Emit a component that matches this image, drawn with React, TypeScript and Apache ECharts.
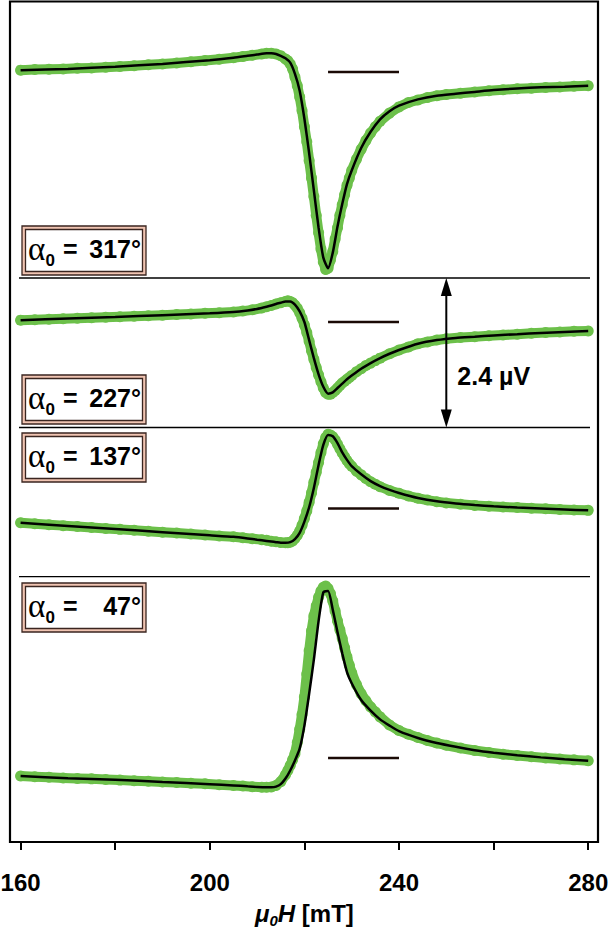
import React, { useEffect, useRef } from 'react';
import * as echarts from 'echarts';

// Field values (mT) of the measured points
const fieldX = [
  160, 163, 166, 169, 172, 175, 178, 181, 184, 187, 190, 193, 196, 199, 202, 205,
  207, 209, 211, 212, 213, 214, 215, 216,
  216.5, 217, 217.5, 218, 218.5, 219, 219.5, 220, 220.5, 221, 221.5, 222, 222.5, 223, 223.5, 224,
  224.5, 225, 225.5, 226, 226.5, 227, 227.5, 228, 228.5, 229, 229.5, 230,
  231, 232, 233, 234, 235, 236,
  238, 240, 242, 244, 246, 248, 250,
  253, 256, 259, 262, 265, 268, 271, 274, 277, 280,
];
// Field values (mT) of the fitted curves
const fitX = [
  160, 170, 180, 190, 200, 205, 208, 210, 212, 213, 214, 215,
  216, 217, 218, 219, 220, 221, 222, 223, 224, 225, 226, 227, 228, 229, 230,
  232, 234, 236, 238, 240, 244, 248, 252, 256, 260, 265, 270, 275, 280,
];

// Measured signal (µV), alpha0 = 317°
const data317 = [
  0.03, 0.04, 0.045, 0.05, 0.06, 0.065, 0.075, 0.09, 0.1, 0.115, 0.13, 0.145, 0.165, 0.185, 0.205, 0.23,
  0.25, 0.27, 0.29, 0.3, 0.3, 0.29, 0.26, 0.21,
  0.18, 0.13, 0.05, -0.08, -0.22, -0.4, -0.62, -0.88, -1.12, -1.42, -1.7, -2.0, -2.3, -2.58, -2.84, -3.05,
  -3.17, -3.15, -3.02, -2.88, -2.68, -2.5, -2.3, -2.13, -1.97, -1.82, -1.7, -1.58,
  -1.4, -1.24, -1.1, -0.98, -0.88, -0.79,
  -0.66, -0.56, -0.49, -0.45, -0.41, -0.38, -0.36,
  -0.34, -0.32, -0.3, -0.285, -0.27, -0.26, -0.25, -0.24, -0.23, -0.22,
];
const fit317 = [
  0.03, 0.05, 0.085, 0.13, 0.19, 0.23, 0.26, 0.28, 0.3, 0.3, 0.29, 0.26,
  0.22, 0.15, -0.03, -0.3, -0.75, -1.3, -1.9, -2.5, -2.98, -3.15, -2.9, -2.48, -2.12, -1.8, -1.58,
  -1.22, -0.96, -0.76, -0.63, -0.54, -0.44, -0.38, -0.35, -0.32, -0.29, -0.265, -0.245, -0.235, -0.22,
];

// alpha0 = 227°
const data227 = [
  0.03, 0.037, 0.045, 0.052, 0.06, 0.067, 0.075, 0.083, 0.092, 0.1, 0.11, 0.12, 0.13, 0.14, 0.15, 0.16,
  0.175, 0.195, 0.225, 0.245, 0.265, 0.29, 0.31, 0.33,
  0.34, 0.33, 0.31, 0.27, 0.22, 0.15, 0.06, -0.05, -0.17, -0.31, -0.46, -0.6, -0.73, -0.85, -0.96, -1.06,
  -1.13, -1.16, -1.16, -1.13, -1.1, -1.06, -1.02, -0.98, -0.95, -0.92, -0.89, -0.86,
  -0.8, -0.75, -0.7, -0.66, -0.62, -0.58,
  -0.51, -0.45, -0.4, -0.35, -0.32, -0.29, -0.27,
  -0.25, -0.235, -0.22, -0.21, -0.195, -0.18, -0.17, -0.16, -0.15, -0.145,
];
const fit227 = [
  0.03, 0.055, 0.08, 0.11, 0.14, 0.16, 0.185, 0.21, 0.245, 0.265, 0.29, 0.31,
  0.33, 0.33, 0.28, 0.17, 0.0, -0.29, -0.58, -0.84, -1.04, -1.15, -1.13, -1.06, -0.99, -0.92, -0.86,
  -0.75, -0.66, -0.58, -0.51, -0.45, -0.35, -0.29, -0.255, -0.235, -0.215, -0.195, -0.175, -0.16, -0.145,
];

// alpha0 = 137°
const data137 = [
  -0.23, -0.245, -0.26, -0.275, -0.29, -0.305, -0.32, -0.335, -0.35, -0.365, -0.38, -0.395, -0.41, -0.425, -0.44, -0.455,
  -0.47, -0.485, -0.5, -0.51, -0.525, -0.535, -0.545, -0.55,
  -0.55, -0.54, -0.52, -0.48, -0.43, -0.36, -0.27, -0.16, -0.04, 0.1, 0.25, 0.42, 0.58, 0.74, 0.9, 1.04,
  1.14, 1.19, 1.18, 1.15, 1.1, 1.03, 0.96, 0.89, 0.83, 0.77, 0.72, 0.68,
  0.6, 0.54, 0.48, 0.43, 0.39, 0.35,
  0.29, 0.245, 0.2, 0.165, 0.135, 0.11, 0.09,
  0.07, 0.05, 0.035, 0.025, 0.015, 0.005, -0.005, -0.015, -0.025, -0.03,
];
const fit137 = [
  -0.23, -0.28, -0.33, -0.38, -0.43, -0.455, -0.48, -0.5, -0.52, -0.53, -0.54, -0.55,
  -0.55, -0.54, -0.49, -0.39, -0.21, 0.02, 0.33, 0.7, 1.02, 1.18, 1.16, 1.05, 0.9, 0.78, 0.68,
  0.55, 0.44, 0.36, 0.3, 0.25, 0.17, 0.115, 0.08, 0.055, 0.035, 0.015, 0.0, -0.015, -0.03,
];

// alpha0 = 47°
const data47 = [
  -0.29, -0.3, -0.31, -0.32, -0.33, -0.335, -0.345, -0.355, -0.365, -0.375, -0.385, -0.395, -0.405, -0.415, -0.43, -0.44,
  -0.45, -0.46, -0.47, -0.47, -0.465, -0.44, -0.38, -0.27,
  -0.2, -0.12, -0.03, 0.07, 0.25, 0.46, 0.7, 0.98, 1.35, 1.72, 2.04, 2.28, 2.44, 2.58, 2.68, 2.74,
  2.76, 2.72, 2.64, 2.52, 2.36, 2.2, 2.06, 1.92, 1.77, 1.62, 1.49, 1.37,
  1.18, 1.03, 0.92, 0.82, 0.74, 0.66,
  0.53, 0.44, 0.38, 0.33, 0.28, 0.24, 0.205,
  0.16, 0.12, 0.09, 0.06, 0.04, 0.02, 0.0, -0.015, -0.03, -0.045,
];
const fit47 = [
  -0.29, -0.325, -0.35, -0.385, -0.42, -0.44, -0.455, -0.465, -0.47, -0.47, -0.46, -0.42,
  -0.33, -0.2, -0.04, 0.15, 0.52, 1.03, 1.58, 2.2, 2.66, 2.68, 2.38, 2.02, 1.68, 1.38, 1.2,
  0.93, 0.76, 0.62, 0.52, 0.43, 0.32, 0.24, 0.18, 0.125, 0.085, 0.045, 0.01, -0.02, -0.045,
];

const angleLabels = ['317°', '227°', '137°', '47°'];
const panelData = [data317, data227, data137, data47];
const panelFit = [fit317, fit227, fit137, fit47];
const tickLabels = [160, 200, 240, 280];
const refLineX = [225, 240];
const arrowField = 250;
const arrowSpan = 2.4;
const arrowText = '2.4 µV';

// ---- layout (pixels) ----
const S = 149.5 / 2.4; // px per µV
const X0 = 20.6;
const X1 = 588.2;
const layout = [
  { top: 2, bottom: 278, zero: 72, boxTop: 226 },
  { top: 278, bottom: 427.5, zero: 322, boxTop: 375 },
  { top: 427.5, bottom: 576.7, zero: 508.5, boxTop: 433 },
  { top: 576.7, bottom: 842, zero: 758, boxTop: 583 },
];
const GREEN = '#6cc04a';
const SANS = '"Liberation Sans", Arial, sans-serif';

export default function App() {
  const ref = useRef<HTMLDivElement>(null);
  useEffect(() => {
    if (!ref.current) return;
    const chart = echarts.init(ref.current, null, { renderer: 'svg' });

    const grids = layout.map((l) => ({
      left: X0,
      width: X1 - X0,
      top: l.top,
      height: l.bottom - l.top,
      containLabel: false,
      outerBoundsMode: 'none',
      show: false,
    }));
    const xAxes = layout.map((l, i) => {
      const last = i === layout.length - 1;
      return {
        type: 'value',
        gridIndex: i,
        position: 'bottom',
        min: 160,
        max: 280,
        interval: 20,
        show: last,
        splitLine: { show: false },
        axisLine: { show: false, onZero: false },
        axisTick: { show: last, inside: false, length: 8, lineStyle: { color: '#000', width: 2 } },
        axisLabel: {
          show: last,
          margin: 28,
          color: '#000',
          fontSize: 24,
          fontWeight: 'bold',
          fontFamily: SANS,
          formatter: (v: number) => (tickLabels.includes(v) ? String(v) : ''),
        },
        name: last ? '{i|μ}{s|0}{i|H}{b| [mT]}' : '',
        nameLocation: 'middle',
        nameGap: 56,
        nameTextStyle: {
          rich: {
            i: { fontSize: 24, fontStyle: 'italic', fontWeight: 'bold', fontFamily: SANS, color: '#000', lineHeight: 30, verticalAlign: 'middle' },
            s: { fontSize: 15, fontStyle: 'italic', fontWeight: 'bold', fontFamily: SANS, color: '#000', lineHeight: 14, verticalAlign: 'bottom' },
            b: { fontSize: 24, fontWeight: 'bold', fontFamily: SANS, color: '#000', lineHeight: 30, verticalAlign: 'middle' },
          },
        },
      };
    });
    const yAxes = layout.map((l, i) => ({
      type: 'value',
      gridIndex: i,
      min: -(l.bottom - l.zero) / S,
      max: (l.zero - l.top) / S,
      show: false,
      splitLine: { show: false },
    }));

    const series: any[] = [];
    layout.forEach((l, i) => {
      series.push({
        type: 'line',
        xAxisIndex: i,
        yAxisIndex: i,
        data: fieldX.map((x, j) => [x, panelData[i][j]]),
        symbol: 'circle',
        symbolSize: 11,
        showSymbol: true,
        showAllSymbol: true,
        itemStyle: { color: GREEN },
        lineStyle: { color: GREEN, width: 10, cap: 'round', join: 'round' },
        z: 2,
        silent: true,
      });
      series.push({
        type: 'line',
        xAxisIndex: i,
        yAxisIndex: i,
        data: fitX.map((x, j) => [x, panelFit[i][j]]),
        symbol: 'none',
        smooth: 0.2,
        lineStyle: { color: '#000', width: 2.5 },
        z: 3,
        silent: true,
      });
      series.push({
        type: 'line',
        xAxisIndex: i,
        yAxisIndex: i,
        data: refLineX.map((x) => [x, 0]),
        symbol: 'none',
        lineStyle: { color: '#1a0a05', width: 2.5 },
        z: 3,
        silent: true,
      });
    });

    chart.setOption({
      animation: false,
      backgroundColor: '#fff',
      grid: grids,
      xAxis: xAxes,
      yAxis: yAxes,
      series,
    });

    // arrow positions via the axes
    const yMin2 = -(layout[1].bottom - layout[1].zero) / S;
    const pA = chart.convertToPixel({ xAxisIndex: 1, yAxisIndex: 1 } as any, [arrowField, yMin2]) as number[];
    const pB = chart.convertToPixel({ xAxisIndex: 1, yAxisIndex: 1 } as any, [arrowField, yMin2 + arrowSpan]) as number[];
    const ax = pA[0];
    const yBot = pA[1];
    const yTop = pB[1];
    const headL = 18;
    const headW = 5.5;

    const graphic: any[] = [];
    // frame
    graphic.push({
      type: 'rect',
      shape: { x: 10, y: 1.5, width: 588, height: 840.5 },
      style: { fill: 'none', stroke: '#000', lineWidth: 2.2 },
      z: 10,
    });
    // separators
    [layout[0].bottom, layout[1].bottom, layout[2].bottom].forEach((y) => {
      graphic.push({
        type: 'line',
        shape: { x1: 19, y1: y, x2: 590, y2: y },
        style: { stroke: '#000', lineWidth: 1.3 },
        z: 5,
      });
    });
    // arrow
    graphic.push({
      type: 'line',
      shape: { x1: ax, y1: yTop + headL - 2, x2: ax, y2: yBot - headL + 2 },
      style: { stroke: '#000', lineWidth: 2 },
      z: 6,
    });
    graphic.push({
      type: 'polygon',
      shape: { points: [[ax, yTop], [ax - headW, yTop + headL], [ax + headW, yTop + headL]] },
      style: { fill: '#000' },
      z: 6,
    });
    graphic.push({
      type: 'polygon',
      shape: { points: [[ax, yBot], [ax - headW, yBot - headL], [ax + headW, yBot - headL]] },
      style: { fill: '#000' },
      z: 6,
    });
    graphic.push({
      type: 'text',
      x: ax + 11,
      y: (yTop + yBot) / 2 + 23,
      style: { text: arrowText, fill: '#000', font: `bold 25px ${SANS}`, textVerticalAlign: 'middle', textAlign: 'left' },
      z: 6,
    });
    // label boxes
    layout.forEach((l, i) => {
      const bx = 22;
      const by = l.boxTop;
      const bw = 124;
      const bh = 49;
      graphic.push({
        type: 'rect',
        shape: { x: bx, y: by, width: bw, height: bh },
        style: { fill: '#f0c4b2', stroke: '#3a2520', lineWidth: 1.3 },
        z: 7,
      });
      graphic.push({
        type: 'rect',
        shape: { x: bx + 3.5, y: by + 3.5, width: bw - 7, height: bh - 7 },
        style: { fill: '#fff', stroke: '#3a2520', lineWidth: 1.3 },
        z: 7,
      });
      graphic.push({
        type: 'text',
        x: bx + 6,
        y: by + 23,
        style: { text: 'α', fill: '#000', font: `33px "Liberation Serif", "DejaVu Serif", serif`, textVerticalAlign: 'middle', textAlign: 'left' },
        z: 8,
      });
      graphic.push({
        type: 'text',
        x: bx + 23.5,
        y: by + 34,
        style: { text: '0', fill: '#000', font: `bold 17px ${SANS}`, textVerticalAlign: 'middle', textAlign: 'left' },
        z: 8,
      });
      graphic.push({
        type: 'text',
        x: bx + 41,
        y: by + 23,
        style: { text: '=', fill: '#000', font: `bold 25px ${SANS}`, textVerticalAlign: 'middle', textAlign: 'left' },
        z: 8,
      });
      graphic.push({
        type: 'text',
        x: bx + bw - 5,
        y: by + 23,
        style: { text: angleLabels[i], fill: '#000', font: `bold 25px ${SANS}`, textVerticalAlign: 'middle', textAlign: 'right' },
        z: 8,
      });
    });

    chart.setOption({ graphic });

    return () => chart.dispose();
  }, []);

  return <div ref={ref} style={{ width: 610, height: 931, position: 'absolute', left: 0, top: 0 }} />;
}
